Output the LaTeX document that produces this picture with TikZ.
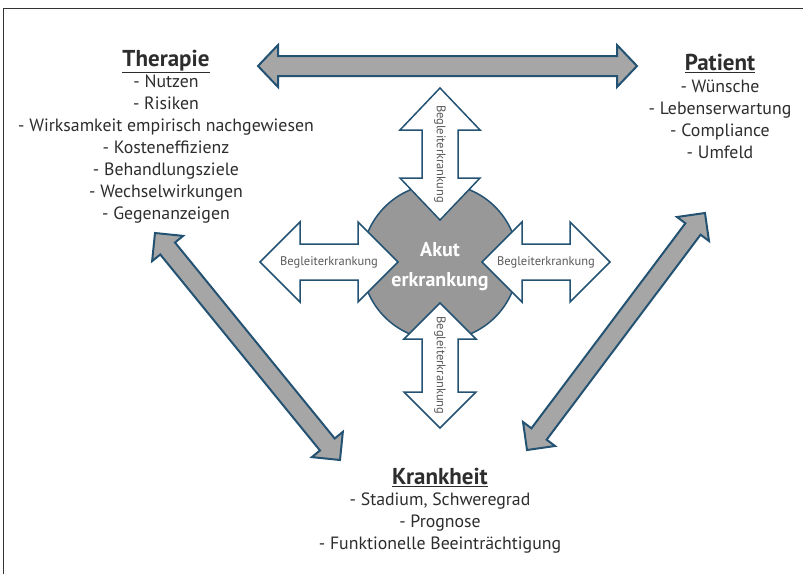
\documentclass[tikz,border=0pt]{standalone}
\usepackage{fontspec}
\setmainfont{PT Sans}
\usepackage{tikz}
\usetikzlibrary{calc, positioning}

\definecolor{rand}{RGB}{36,82,115}
\definecolor{pfeilgrau}{RGB}{166,166,166}
\definecolor{kreisgrau}{RGB}{152,152,152}
\definecolor{schrift}{RGB}{45,45,45}

% title of a text block
\newcommand{\titel}[1]{{\fontsize{23}{22}\selectfont\bfseries\underline{#1}}}

\tikzset{
	% fat double arrow between two points: shaft half width, head half width, head length
	fatarrow/.style n args={3}{
		to path={
			let \p1=($(\tikztotarget)-(\tikztostart)$),
			\n1={atan2(\y1,\x1)},
			\n2={veclen(\x1,\y1)}
			in
			-- ($(\tikztostart)+(\n1:#3)+(\n1+90:#2)$)
			-- ($(\tikztostart)+(\n1:#3)+(\n1+90:#1)$)
			-- ($(\tikztostart)+(\n1:\n2-#3)+(\n1+90:#1)$)
			-- ($(\tikztostart)+(\n1:\n2-#3)+(\n1+90:#2)$)
			-- (\tikztotarget)
			-- ($(\tikztostart)+(\n1:\n2-#3)+(\n1-90:#2)$)
			-- ($(\tikztostart)+(\n1:\n2-#3)+(\n1-90:#1)$)
			-- ($(\tikztostart)+(\n1:#3)+(\n1-90:#1)$)
			-- ($(\tikztostart)+(\n1:#3)+(\n1-90:#2)$)
			-- cycle
		}
	}
}

\begin{document}
\begin{tikzpicture}[x=1pt, y=1pt,
		block/.style={align=center, inner sep=0pt, text=schrift, font=\fontsize{17.8}{22}\selectfont},
		grosspfeil/.style={draw=rand, line width=2pt, fill=pfeilgrau, line join=miter},
		weisspfeil/.style={draw=rand, line width=1.5pt, fill=white, line join=miter},
		begleit/.style={inner sep=0pt, text=black!65, font=\fontsize{12.5}{14}\selectfont},
		rahmen/.style={draw=black!80, line width=1pt}]
	\useasboundingbox (0,0) rectangle (803,-574);
	
	% Frame
	\draw[rahmen] (3,-574) -- (3,-8) -- (803,-8);
	
	% Text blocks
	\node[block, anchor=north] (therapie) at (166,-50) {\titel{Therapie}\\[-1pt]
		- Nutzen\\ - Risiken\\ - Wirksamkeit empirisch nachgewiesen\\ - Kosteneffizienz\\
		- Behandlungsziele\\ - Wechselwirkungen\\ - Gegenanzeigen};
	\node[block, anchor=north] (patient) at (720,-54) {\titel{Patient}\\[0pt]
		- Wünsche\\ - Lebenserwartung\\ - Compliance\\ - Umfeld};
	\node[block, anchor=north] (krankheit) at (440,-468) {\titel{Krankheit}\\[-1pt]
		- Stadium, Schweregrad\\ - Prognose\\ - Funktionelle Beeinträchtigung};
	
	% Tips of the big grey arrows
	\coordinate (thRechts) at (258,-66);
	\coordinate (paLinks) at (637,-66);
	\coordinate (thUnten) at (155,-233);
	\coordinate (krLinks) at (340,-460);
	\coordinate (paUnten) at (705,-213);
	\coordinate (krRechts) at (527,-450);
	
	\draw[grosspfeil] (thRechts) to[fatarrow={10}{21}{20}] (paLinks);
	\draw[grosspfeil] (thUnten) to[fatarrow={9.5}{20}{20}] (krLinks);
	\draw[grosspfeil] (paUnten) to[fatarrow={9.5}{20}{20}] (krRechts);
	
	% Acute disease in the middle
	\node[circle, draw=rand, line width=1.5pt, fill=kreisgrau, minimum size=156pt] (akut) at (440,-262) {};
	
	% Comorbidities
	\coordinate (obenA) at (440,-88);
	\coordinate (obenB) at (440,-220);
	\coordinate (untenA) at (440,-303);
	\coordinate (untenB) at (440,-428);
	\coordinate (linksA) at (260,-262);
	\coordinate (linksB) at (398,-262);
	\coordinate (rechtsA) at (482,-262);
	\coordinate (rechtsB) at (610,-262);
	
	\draw[weisspfeil] (obenA) to[fatarrow={18}{40}{42}] (obenB);
	\draw[weisspfeil] (untenA) to[fatarrow={18}{36}{36}] (untenB);
	\draw[weisspfeil] (linksA) to[fatarrow={18}{40}{40}] (linksB);
	\draw[weisspfeil] (rechtsA) to[fatarrow={18}{40}{40}] (rechtsB);
	
	\node[begleit, rotate=-90] (bOben) at ($(obenA)!0.5!(obenB)$) {Begleiterkrankung};
	\node[begleit, rotate=-90] (bUnten) at ($(untenA)!0.5!(untenB)$) {Begleiterkrankung};
	\node[begleit] (bLinks) at ($(linksA)!0.5!(linksB)$) {Begleiterkrankung};
	\node[begleit] (bRechts) at ($(rechtsA)!0.5!(rechtsB)$) {Begleiterkrankung};
	
	\node[align=center, text=white, font=\fontsize{20}{30}\selectfont\bfseries] (akutText) at ($(akut.center)+(0,-5)$) {Akut\\erkrankung};
	
\end{tikzpicture}
\end{document}
